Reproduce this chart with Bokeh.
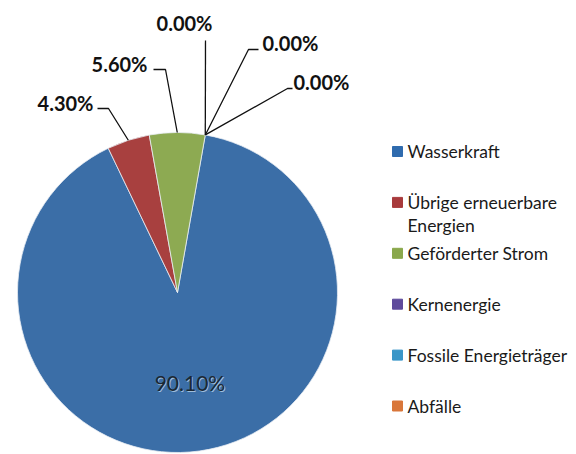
import math
from bokeh.plotting import figure
from bokeh.models import ColumnDataSource
from bokeh.core.properties import value
from bokeh.embed import file_html
from bokeh.resources import INLINE

# ---------------- data ----------------
categories = ["Wasserkraft", "Übrige erneuerbare Energien", "Geförderter Strom",
              "Kernenergie", "Fossile Energieträger", "Abfälle"]
shares = [90.10, 4.30, 5.60, 0.00, 0.00, 0.00]
legend_lines = [["Wasserkraft"], ["Übrige erneuerbare", "Energien"], ["Geförderter Strom"],
                ["Kernenergie"], ["Fossile Energieträger"], ["Abfälle"]]
pie_colors = ["#3B6EA7", "#A8403F", "#8DAA52", "#6B4E9A", "#3D9AC6", "#E07B3A"]
legend_colors = ["#2F6BAE", "#A83A3C", "#8AA84C", "#5E4A9C", "#3A96C8", "#D9773A"]

# ---------------- layout (pixels) ----------------
W, H = 576, 454
def X(px): return px
def Y(py): return H - py

CX, CY, R = X(177), Y(292), 160
FIRST_ANGLE = 10.0  # degrees clockwise from 12 o'clock

# label placement: text position, alignment, elbow point, end of horizontal stub
label_layout = [
    dict(inside=True, frac=0.57),
    dict(tx=93, ty=102, align="right", ex=108, ey=108, hx=97),
    dict(tx=147, ty=63, align="right", ex=165, ey=69, hx=153),
    dict(tx=184, ty=22, align="center", ex=205, ey=40, hx=205),
    dict(tx=262, ty=42, align="left", ex=248, ey=49, hx=258),
    dict(tx=293, ty=81, align="left", ex=287, ey=88, hx=292),
]

p = figure(width=W, height=H, x_range=(0, W), y_range=(0, H),
           output_backend="svg", toolbar_location=None, min_border=0)
p.axis.visible = False
p.grid.visible = False
p.outline_line_color = None
p.background_fill_color = "white"

total = sum(shares)
starts, ends, mids, cols, cats = [], [], [], [], []
acc = FIRST_ANGLE
for s, c, k in zip(shares, pie_colors, categories):
    a0 = acc
    a1 = acc + s / total * 360.0
    mids.append((a0 + a1) / 2.0)
    if s > 0:
        starts.append(math.radians(90 - a0))
        ends.append(math.radians(90 - a1))
        cols.append(c)
        cats.append(k)
    acc = a1

src = ColumnDataSource(dict(start=starts, end=ends, color=cols, cat=cats))
p.wedge(x=CX, y=CY, radius=R, radius_units="screen", start_angle="start", end_angle="end",
        direction="clock", fill_color="color", line_color="#E8EEF4", line_width=0.8,
        source=src)

FONT = value("Lato")

for i, (s, lay) in enumerate(zip(shares, label_layout)):
    txt = f"{s:.2f}%"
    m = math.radians(mids[i])
    if lay.get("inside"):
        r = R * lay["frac"]
        lx = CX + r * math.sin(m)
        ly = CY + r * math.cos(m)
        p.text(x=[lx + 0.8], y=[ly - 0.8], text=[txt], text_font=FONT, text_font_size="21px",
               text_color="#9FBEDC", text_align="center", text_baseline="middle")
        p.text(x=[lx], y=[ly], text=[txt], text_font=FONT, text_font_size="21px",
               text_color="#1B2733", text_align="center", text_baseline="middle")
        continue
    ax = CX + R * math.sin(m)
    ay = CY + R * math.cos(m)
    p.line(x=[ax, X(lay["ex"]), X(lay["hx"])], y=[ay, Y(lay["ey"]), Y(lay["ey"])],
           line_color="#111111", line_width=1.3)
    p.text(x=[X(lay["tx"])], y=[Y(lay["ty"])], text=[txt], text_font=FONT,
           text_font_size="20px", text_font_style="bold", text_color="#111111",
           text_align=lay["align"], text_baseline="middle")

# legend
LEG_X, LEG_Y0, LEG_STEP, LINE_H, SQ = 392, 151, 50.9, 23, 10
for i, lines in enumerate(legend_lines):
    yc = LEG_Y0 + i * LEG_STEP
    p.rect(x=[X(LEG_X + SQ / 2)], y=[Y(yc)], width=SQ, height=SQ, width_units="screen",
           height_units="screen", fill_color=legend_colors[i], line_color=legend_colors[i])
    for j, ln in enumerate(lines):
        p.text(x=[X(LEG_X + 15)], y=[Y(yc + j * LINE_H)], text=[ln], text_font=FONT,
               text_font_size="17.5px", text_color="#1A1A1A", text_align="left",
               text_baseline="middle")

open("out.html", "w").write(file_html(p, INLINE))
